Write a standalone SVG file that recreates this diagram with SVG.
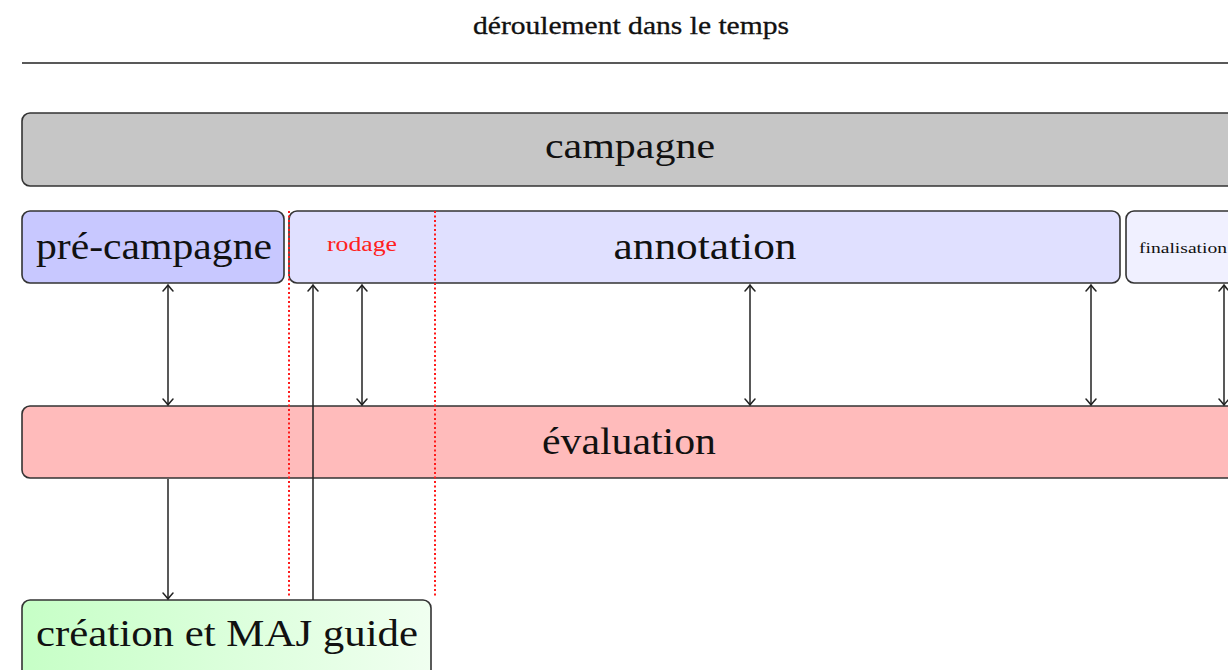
<svg xmlns="http://www.w3.org/2000/svg" width="1228" height="670" viewBox="0 0 1228 670">
<style>
  .box { stroke: #333; stroke-width: 1.6; }
  .lbl { font-family: "Liberation Serif", "DejaVu Serif", serif; fill: #111; text-anchor: middle; }
  .con { stroke: #222; stroke-width: 1.5; fill: none; }
  .guide { stroke: #ff1a1a; stroke-width: 2; stroke-dasharray: 2 2.5; fill: none; }
</style>
<defs>
  <marker id="ah" viewBox="-10 -8 12 16" refX="0" refY="0" markerWidth="12" markerHeight="16" markerUnits="userSpaceOnUse" orient="auto-start-reverse">
    <path d="M -6 -5 Q -1.5 -1 0 0 Q -1.5 1 -6 5" fill="none" stroke="#222" stroke-width="1.5" stroke-linecap="round"/>
  </marker>
  <linearGradient id="green" x1="0" y1="0" x2="1" y2="0">
    <stop offset="0" stop-color="#c6ffc6"/>
    <stop offset="1" stop-color="#f0fff0"/>
  </linearGradient>
</defs>
<rect width="1228" height="670" fill="#fff"/>

<g id="title">
  <text class="lbl" x="631" y="34" font-size="25" stroke="#111" stroke-width="0.3" textLength="316" lengthAdjust="spacingAndGlyphs">déroulement dans le temps</text>
  <line x1="22" y1="63" x2="1228" y2="63" stroke="#222" stroke-width="1.6"/>
</g>

<g id="campagne">
  <rect class="box" x="22" y="113" width="1230" height="73" rx="8" fill="#c6c6c6"/>
  <text class="lbl" x="630" y="158" font-size="36" textLength="170" lengthAdjust="spacingAndGlyphs">campagne</text>
</g>

<g id="pre-campagne">
  <rect class="box" x="22" y="211" width="262" height="72" rx="8" fill="#c8c8ff"/>
  <text class="lbl" x="154" y="259" font-size="38" textLength="236" lengthAdjust="spacingAndGlyphs">pré-campagne</text>
</g>

<g id="annotation">
  <rect class="box" x="289" y="211" width="831" height="72" rx="8" fill="#e0e0ff"/>
  <text class="lbl" x="705" y="259" font-size="38" textLength="183" lengthAdjust="spacingAndGlyphs">annotation</text>
  <text class="lbl" x="362" y="251" font-size="20" style="fill:#ff2020" textLength="70" lengthAdjust="spacingAndGlyphs">rodage</text>
</g>

<g id="finalisation">
  <rect class="box" x="1126" y="211" width="130" height="72" rx="8" fill="#f0f0ff"/>
  <text class="lbl" x="1183" y="253" font-size="15" textLength="88" lengthAdjust="spacingAndGlyphs">finalisation</text>
</g>

<g id="evaluation">
  <rect class="box" x="22" y="406" width="1230" height="72" rx="8" fill="#ffbbbb"/>
  <text class="lbl" x="629" y="454" font-size="38" textLength="174" lengthAdjust="spacingAndGlyphs">évaluation</text>
</g>

<g id="guide-maj">
  <rect class="box" x="22" y="600" width="409" height="80" rx="8" fill="url(#green)"/>
  <text class="lbl" x="227" y="646" font-size="38" textLength="382" lengthAdjust="spacingAndGlyphs">création et MAJ guide</text>
</g>

<g id="guides">
  <line class="guide" x1="289" y1="211" x2="289" y2="596"/>
  <line class="guide" x1="435" y1="211" x2="435" y2="596"/>
</g>

<g id="connectors">
  <line class="con" x1="168" y1="285" x2="168" y2="405" marker-start="url(#ah)" marker-end="url(#ah)"/>
  <line class="con" x1="362" y1="285" x2="362" y2="405" marker-start="url(#ah)" marker-end="url(#ah)"/>
  <line class="con" x1="750" y1="285" x2="750" y2="405" marker-start="url(#ah)" marker-end="url(#ah)"/>
  <line class="con" x1="1091" y1="285" x2="1091" y2="405" marker-start="url(#ah)" marker-end="url(#ah)"/>
  <line class="con" x1="1224" y1="285" x2="1224" y2="405" marker-start="url(#ah)" marker-end="url(#ah)"/>
  <line class="con" x1="168" y1="479" x2="168" y2="599" marker-end="url(#ah)"/>
  <line class="con" x1="313" y1="600" x2="313" y2="285" marker-end="url(#ah)"/>
</g>
</svg>
